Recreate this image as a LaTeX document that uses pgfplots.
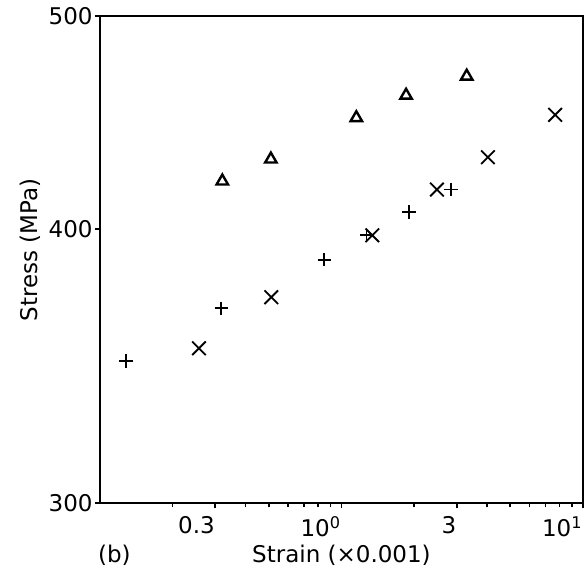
\documentclass[border=0pt]{standalone}
\usepackage{fontspec}
\setmainfont{DejaVu Sans}
\usepackage{pgfplots}
\pgfplotsset{compat=1.18}

\begin{document}
\fontsize{11.5}{14}\selectfont
\begin{tikzpicture}
\begin{axis}[
    name=ax,
    scale only axis,
    width=241.5pt, height=243.5pt,
    xmode=log, ymode=log,
    xmin=0.1, xmax=10,
    ymin=300, ymax=500,
    xtick={0.3,1,3,10},
    xticklabels={0.3,10\textsuperscript{0},3,10\textsuperscript{1}},
    minor xtick={0.2,0.4,0.5,0.6,0.7,0.8,0.9,2,4,5,6,7,8,9},
    ytick={300,400,500},
    yticklabels={300,400,500},
    tick align=outside,
    xtick pos=bottom, ytick pos=left,
    major tick length=2.5pt, minor tick length=2pt,
    every tick/.style={black, line width=0.8pt},
    axis line style={line width=1.1pt},
    x tick label style={anchor=north east, inner xsep=0pt},
    y tick label style={inner xsep=1pt},
    xlabel={Strain (×0.001)},
    ylabel={Stress (MPa)},
    xlabel style={at={(axis description cs:0.5,0)}, anchor=base, yshift=-29.5pt},
    ylabel style={at={(axis description cs:-0.145,0.52)}, anchor=center},
    clip=false,
]

% triangles
\addplot[only marks, mark=triangle, mark size=3.3pt, line width=1.2pt]
    coordinates {(0.321,420.6)(0.510,430.4)(1.152,449.5)(1.851,460.2)(3.30,469.5)};

% plus
\addplot[only marks, mark=+, mark size=3.4pt, line width=0.9pt]
    coordinates {(0.128,348.2)(0.318,368.1)(0.849,387.4)(1.27,397.4)(1.90,407.1)(2.84,416.9)};

% crosses
\addplot[only marks, mark=x, mark size=4.8pt, line width=0.9pt]
    coordinates {(0.257,353.0)(0.512,372.4)(1.342,397.4)(2.484,416.9)(4.04,431.3)(7.67,450.9)};

\end{axis}
\node[anchor=base west] at ([xshift=-5pt,yshift=-29.5pt]ax.south west) {(b)};
\path ([xshift=-50pt,yshift=-35.5pt]ax.south west) rectangle ([xshift=1pt,yshift=7pt]ax.north east);
\end{tikzpicture}
\end{document}
